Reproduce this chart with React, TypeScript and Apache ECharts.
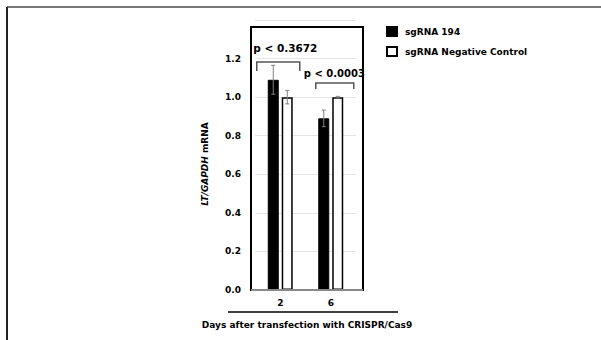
import React, { useEffect, useRef } from 'react';
import * as echarts from 'echarts';

const categories = ['2', '6'];
const sg194 = [1.09, 0.89];
const sg194Err = [0.075, 0.043];
const negCtrl = [1.0, 1.0];
const negCtrlErr = [0.035, 0.004];
const pLabels = ['p < 0.3672', 'p < 0.0003'];
const pLabelY = [1.255, 1.125];
const bracketTop = [1.182, 1.073];
const bracketLeg = [1.135, 1.042];
const seriesNames = ['sgRNA 194', 'sgRNA Negative Control'];

const FONT = '"DejaVu Sans", Verdana, sans-serif';
const BAR_OFFSET = 7;
const BRACKET_SPAN = [[-23.5, 19.5], [-15, 23]];
const LABEL_SHIFT = -27;
const LABEL_SIZE = [10.5, 10];

export default function App() {
  const ref = useRef<HTMLDivElement>(null);
  useEffect(() => {
    if (!ref.current) return;
    const chart = echarts.init(ref.current, null, { renderer: 'svg' });

    const errData = (vals: number[], errs: number[]) =>
      vals.map((v, i) => [i, v - errs[i], v + errs[i]]);

    const errSeries = (name: string, vals: number[], errs: number[], off: number) => ({
      type: 'custom',
      name: name + ' err',
      z: 5,
      data: errData(vals, errs),
      encode: { x: 0, y: [1, 2] },
      renderItem: (params: any, api: any) => {
        const c = api.value(0);
        const lo = api.coord([c, api.value(1)]);
        const hi = api.coord([c, api.value(2)]);
        const x = hi[0] + off;
        const st = { stroke: '#808080', lineWidth: 1 };
        return {
          type: 'group',
          children: [
            { type: 'line', shape: { x1: x, y1: hi[1], x2: x, y2: lo[1] }, style: st },
            { type: 'line', shape: { x1: x - 2, y1: hi[1], x2: x + 2, y2: hi[1] }, style: st },
            { type: 'line', shape: { x1: x - 2, y1: lo[1], x2: x + 2, y2: lo[1] }, style: st },
          ],
        };
      },
    });

    const option: any = {
      animation: false,
      backgroundColor: '#fff',
      textStyle: { fontFamily: FONT },
      grid: { left: 255, right: 245, top: 20, bottom: 50 },
      legend: {
        data: seriesNames,
        orient: 'vertical',
        left: 381,
        top: 21,
        itemWidth: 10,
        itemHeight: 9,
        itemGap: 9,
        icon: 'rect',
        textStyle: { fontFamily: FONT, fontWeight: 'bold', fontSize: 9, color: '#000', padding: [0, 0, 0, 3] },
      },
      xAxis: {
        type: 'category',
        data: categories,
        axisLine: { show: false },
        axisTick: { show: false },
        axisLabel: { fontFamily: FONT, fontWeight: 'bold', fontSize: 9, color: '#000', margin: 8 },
      },
      yAxis: {
        type: 'value',
        min: 0,
        max: 1.4,
        interval: 0.2,
        axisLine: { show: false },
        axisTick: { show: false },
        splitLine: { lineStyle: { color: '#e4e4e4', width: 1 } },
        axisLabel: {
          fontFamily: FONT,
          fontWeight: 'bold',
          fontSize: 9,
          color: '#000',
          margin: 14,
          formatter: (v: number) => (Math.abs(v - 1.4) < 1e-6 ? '' : v.toFixed(1)),
        },
      },
      series: [
        {
          type: 'bar',
          name: seriesNames[0],
          data: sg194,
          barWidth: 11,
          barGap: '27%',
          itemStyle: { color: '#000', borderColor: '#000', borderWidth: 1 },
        },
        {
          type: 'bar',
          name: seriesNames[1],
          data: negCtrl,
          barWidth: 11,
          itemStyle: { color: '#fff', borderColor: '#000', borderWidth: 1.5 },
        },
        errSeries(seriesNames[0], sg194, sg194Err, -BAR_OFFSET),
        errSeries(seriesNames[1], negCtrl, negCtrlErr, BAR_OFFSET),
        {
          type: 'custom',
          name: 'brackets',
          z: 6,
          data: categories.map((_, i) => [i, bracketLeg[i], bracketTop[i]]),
          encode: { x: 0, y: [1, 2] },
          renderItem: (params: any, api: any) => {
            const c = api.value(0);
            const leg = api.coord([c, api.value(1)]);
            const top = api.coord([c, api.value(2)]);
            const span = BRACKET_SPAN[params.dataIndex];
            const x1 = top[0] + span[0];
            const x2 = top[0] + span[1];
            return {
              type: 'polyline',
              shape: { points: [[x1, leg[1]], [x1, top[1]], [x2, top[1]], [x2, leg[1]]] },
              style: { stroke: '#555', lineWidth: 1.5, fill: null },
            };
          },
        },
        {
          type: 'custom',
          name: 'pvalues',
          z: 6,
          data: categories.map((_, i) => [i, pLabelY[i]]),
          encode: { x: 0, y: 1 },
          renderItem: (params: any, api: any) => {
            const p = api.coord([api.value(0), api.value(1)]);
            return {
              type: 'text',
              x: p[0] + LABEL_SHIFT,
              y: p[1],
              style: {
                text: pLabels[params.dataIndex],
                fill: '#000',
                font: `bold ${LABEL_SIZE[params.dataIndex]}px ${FONT}`,
                align: 'left',
                verticalAlign: 'middle',
              },
            };
          },
        },
      ],
      graphic: [
        { type: 'line', shape: { x1: 7, y1: 7, x2: 601, y2: 7 }, style: { stroke: '#777', lineWidth: 2 } },
        { type: 'line', shape: { x1: 7, y1: 7, x2: 7, y2: 340 }, style: { stroke: '#222', lineWidth: 2 } },
        { type: 'rect', shape: { x: 251, y: 27, width: 112, height: 263 }, style: { stroke: '#000', lineWidth: 2, fill: 'none' }, z: 1 },
        { type: 'line', shape: { x1: 251, y1: 290, x2: 363, y2: 290 }, style: { stroke: '#888', lineWidth: 2 }, z: 10 },
        { type: 'line', shape: { x1: 228, y1: 312, x2: 398, y2: 312 }, style: { stroke: '#000', lineWidth: 1.5 } },
        {
          type: 'text',
          x: 307,
          y: 325,
          style: {
            text: 'Days after transfection with CRISPR/Cas9',
            font: `bold 9px ${FONT}`,
            fill: '#000',
            align: 'center',
            verticalAlign: 'middle',
          },
        },
        {
          type: 'text',
          x: 205,
          y: 164,
          rotation: Math.PI / 2,
          style: {
            text: '{i|LT/GAPDH} mRNA',
            align: 'center',
            verticalAlign: 'middle',
            fill: '#000',
            font: `bold 9px ${FONT}`,
            rich: {
              i: { fontStyle: 'italic', fontWeight: 'bold', fontSize: 9, fontFamily: FONT, fill: '#000' },
            },
          },
        },
      ],
    };
    chart.setOption(option);
    return () => chart.dispose();
  }, []);
  return (
    <div
      ref={ref}
      style={{ position: 'fixed', left: 0, top: 0, width: 601, height: 340, background: '#fff' }}
    />
  );
}
